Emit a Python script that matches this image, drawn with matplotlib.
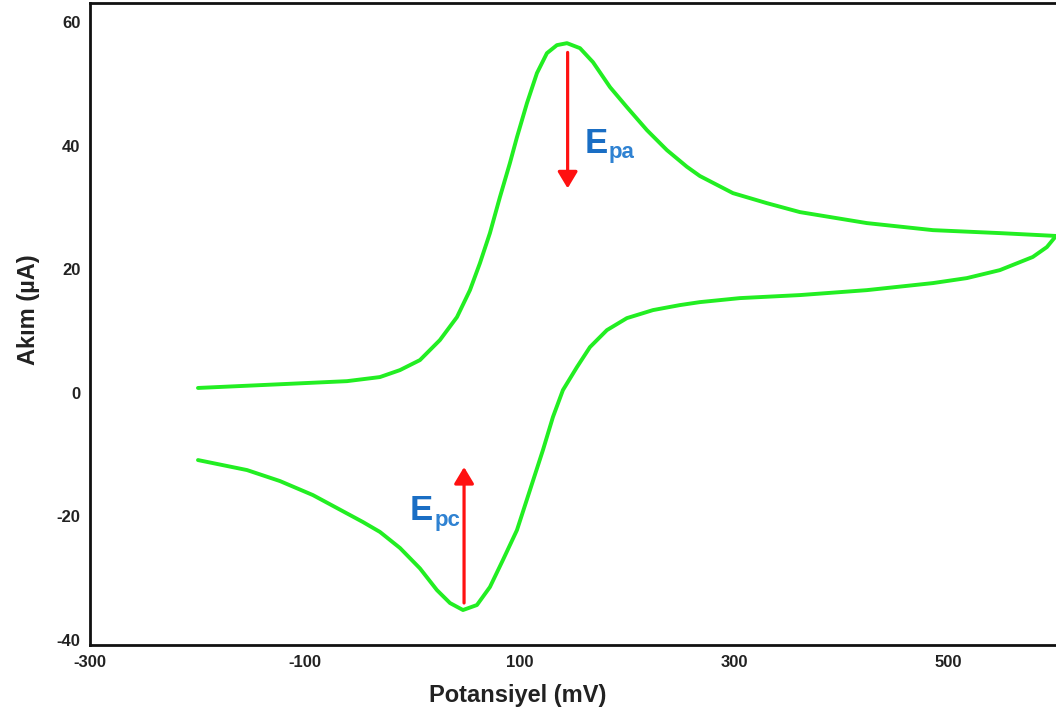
import matplotlib
matplotlib.use("Agg")
import matplotlib.pyplot as plt

# ---- data ----
# forward (oxidation) scan
fwd_x = [-199.4, -123.0, -60.6, -29.9, -11.2, 7.4, 26.0, 41.9, 54.0, 63.3, 72.6, 81.9,
         91.2, 97.8, 107.1, 116.4, 125.7, 135.0, 144.4, 156.5, 168.6, 184.5, 200.2,
         218.9, 237.5, 256.1, 268.2, 299.0, 330.6, 361.4, 423.8, 485.3, 547.7, 600.0]
fwd_y = [0.8, 1.4, 1.9, 2.56, 3.69, 5.31, 8.55, 12.27, 16.63, 21.0, 25.86, 31.68,
         37.18, 41.39, 46.89, 51.75, 54.98, 56.28, 56.6, 55.79, 53.53, 49.48, 46.25,
         42.52, 39.29, 36.6, 35.1, 32.33, 30.71, 29.26, 27.48, 26.34, 25.86, 25.4]

# reverse (reduction) scan
rev_x = [600.0, 591.5, 578.4, 547.7, 517.0, 485.3, 423.8, 361.4, 305.5, 268.2, 249.6,
         224.5, 200.2, 181.6, 165.8, 153.7, 140.6, 131.3, 122.0, 109.9, 97.8, 84.7,
         72.6, 60.5, 47.5, 35.4, 23.2, 7.4, -11.2, -29.9, -45.7, -92.3, -123.0,
         -153.7, -199.4]
rev_y = [25.4, 23.6, 22.0, 19.87, 18.58, 17.77, 16.63, 15.83, 15.34, 14.69, 14.21,
         13.40, 12.10, 10.16, 7.41, 4.18, 0.45, -3.91, -9.25, -15.73, -22.20, -27.05,
         -31.42, -34.33, -35.14, -34.01, -31.91, -28.4, -25.1, -22.5, -20.9, -16.54,
         -14.27, -12.49, -10.87]

x_ticks = [-300, -100, 100, 300, 500]
y_ticks = [-40, -20, 0, 20, 40, 60]

# peak arrows (x, start y, end y)
epa_x, epa_y0, epa_y1 = 145, 55.1, 33.1
epc_x, epc_y0, epc_y1 = 48.5, -34.0, -12.0

# ---- figure ----
plt.rcParams['font.family'] = ['Liberation Sans', 'DejaVu Sans']
fig = plt.figure(figsize=(10.56, 7.16), dpi=100)
ax = fig.add_axes([90/1056, 71/716, 966/1056, 642/716])

green = '#22ee22'
ax.plot(fwd_x, fwd_y, color=green, lw=2.8, solid_capstyle='round', solid_joinstyle='round')
ax.plot(rev_x, rev_y, color=green, lw=2.8, solid_capstyle='round', solid_joinstyle='round')

ax.set_xlim(-300, 600)
ax.set_ylim(-40.8, 63.1)

ax.set_xticks(x_ticks)
ax.set_xticklabels([str(v) for v in x_ticks])
ax.set_yticks(y_ticks)
ax.set_yticklabels([str(v) for v in y_ticks])
ax.tick_params(length=0, labelsize=12, colors='#222222')
ax.tick_params(axis='x', pad=7)
ax.tick_params(axis='y', pad=7)
for lab in ax.get_xticklabels() + ax.get_yticklabels():
    lab.set_fontweight('bold')

for s in ['left', 'bottom', 'top']:
    ax.spines[s].set_linewidth(2.0)
    ax.spines[s].set_color('#111111')
ax.spines['right'].set_visible(False)

ax.set_xlabel('Potansiyel (mV)', fontsize=17, fontweight='bold', color='#222222')
ax.set_ylabel('Akım (µA)', fontsize=17, fontweight='bold', color='#222222')
ax.xaxis.set_label_coords(0.443, -0.060)
ax.yaxis.set_label_coords(-0.052, 0.522)

arrow_style = "-|>,head_length=0.5,head_width=0.3"
ax.annotate('', xy=(epa_x, epa_y1), xytext=(epa_x, epa_y0),
            arrowprops=dict(arrowstyle=arrow_style, color='#ff1111', lw=2.3,
                            mutation_scale=20, shrinkA=0, shrinkB=0))
ax.annotate('', xy=(epc_x, epc_y1), xytext=(epc_x, epc_y0),
            arrowprops=dict(arrowstyle=arrow_style, color='#ff1111', lw=2.3,
                            mutation_scale=20, shrinkA=0, shrinkB=0))

blue = '#1a6ec4'
blue2 = '#2f82d2'
ax.text(161, 38.9, 'E', fontsize=25, fontweight='bold', color=blue, ha='left', va='baseline')
ax.text(183.5, 38.0, 'pa', fontsize=16, fontweight='bold', color=blue2, ha='left', va='baseline')
ax.text(-1.9, -20.6, 'E', fontsize=25, fontweight='bold', color=blue, ha='left', va='baseline')
ax.text(20.6, -21.5, 'pc', fontsize=16, fontweight='bold', color=blue2, ha='left', va='baseline')

fig.savefig('out.png', dpi=100)
